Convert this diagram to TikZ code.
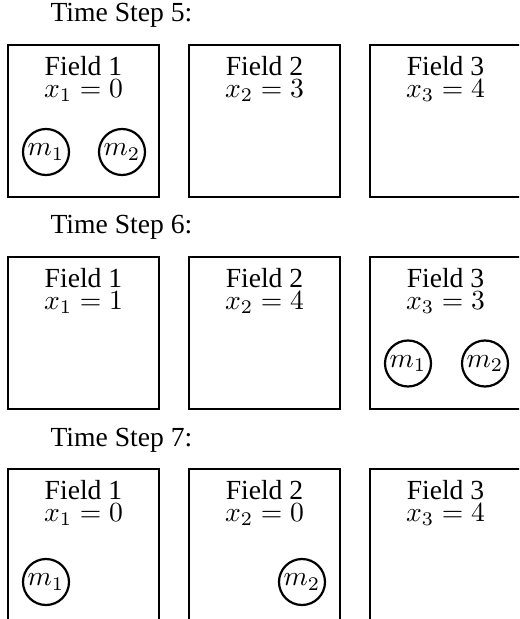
\documentclass[tikz,border=0pt]{standalone}
\usepackage[no-math]{fontspec}
\setmainfont{Liberation Serif}
\tikzset{
  boxline/.style={draw, thick},
  mcirc/.style={draw, thick, circle, inner sep=0pt, minimum size=16.65pt},
  ftext/.style={anchor=north, inner sep=0pt, align=center, font=\fontsize{10pt}{8pt}\selectfont},
  ttext/.style={anchor=base west, inner sep=0pt}
}
\newcommand\fieldbox[5]{%
  \draw[boxline] (#2,#3) rectangle ++(151,152);
  \node[ftext] (#1t) at (#2+75.5,#3+10.5) {Field #4\\$x_#4 = #5$};
}
\begin{document}
\begin{tikzpicture}[x=0.362pt,y=-0.362pt]
\useasboundingbox (0,0) rectangle (519,619);
\clip (0,0) rectangle (519,619);
% Time step 5
\node[ttext] (ts5) at (50,22) {Time Step 5:};
\fieldbox{a1}{8}{45}{1}{0}
\fieldbox{a2}{189}{45}{2}{3}
\fieldbox{a3}{370}{45}{3}{4}
\node[mcirc] (a1m1) at (46,152) {$m_1$};
\node[mcirc] (a1m2) at (122,152) {$m_2$};
% Time step 6
\node[ttext] (ts6) at (50,233.5) {Time Step 6:};
\fieldbox{b1}{8}{257}{1}{1}
\fieldbox{b2}{189}{257}{2}{4}
\fieldbox{b3}{370}{257}{3}{3}
\node[mcirc] (b3m1) at (408,363.5) {$m_1$};
\node[mcirc] (b3m2) at (485,363.5) {$m_2$};
% Time step 7
\node[ttext] (ts7) at (50,446) {Time Step 7:};
\fieldbox{c1}{8}{469}{1}{0}
\fieldbox{c2}{189}{469}{2}{0}
\fieldbox{c3}{370}{469}{3}{4}
\node[mcirc] (c1m1) at (46,582) {$m_1$};
\node[mcirc] (c2m2) at (302,582) {$m_2$};
\end{tikzpicture}
\end{document}
